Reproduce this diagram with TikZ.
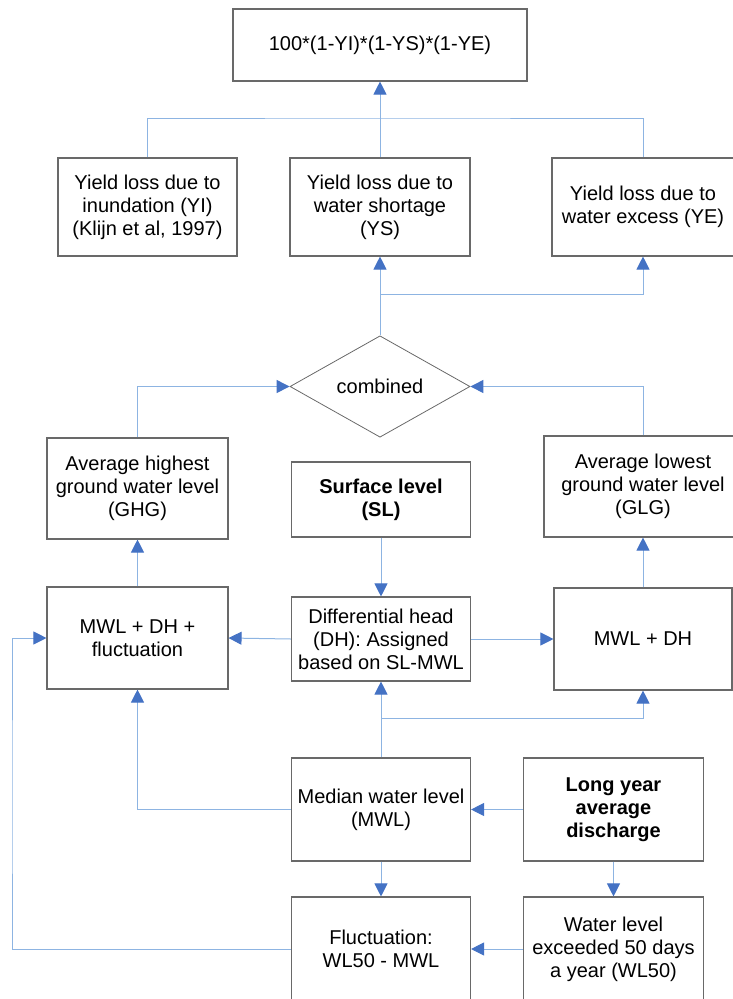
\documentclass[tikz,border=0pt]{standalone}
\usepackage{fontspec}
\setmainfont{Liberation Sans}
\usetikzlibrary{arrows.meta,shapes.geometric}
\definecolor{linkblue}{RGB}{141,180,226}
\definecolor{tipblue}{RGB}{68,114,196}
\definecolor{boxgray}{RGB}{105,105,105}

\begin{document}
\begin{tikzpicture}[x=1pt,y=-1pt,
  box/.style={draw=boxgray, line width=1.1pt, rectangle, inner sep=0pt,
              align=center, font=\fontsize{20}{23}\selectfont},
  decision/.style={draw=boxgray, line width=0.8pt, diamond, inner sep=0pt,
              align=center, font=\fontsize{20}{23}\selectfont},
  link/.style={draw=linkblue, line width=1pt},
  arr/.style={link, -{Triangle[length=13pt,width=13pt,color=tipblue,fill=tipblue]}},
]
\useasboundingbox (0,0) rectangle (732,999);

% result
\node[box, minimum width=294pt, minimum height=72pt] (top) at (380,45)
  {100*(1-YI)*(1-YS)*(1-YE)};

% yield losses
\node[box, minimum width=179pt, minimum height=98pt] (YI) at (147.5,207)
  {Yield loss due to\\inundation (YI)\\(Klijn et al, 1997)};
\node[box, minimum width=180pt, minimum height=98pt] (YS) at (380,207)
  {Yield loss due to\\water shortage\\(YS)};
\node[box, minimum width=182pt, minimum height=98pt] (YE) at (643,207)
  {Yield loss due to\\water excess (YE)};

% combination
\node[decision, minimum width=180pt, minimum height=101pt] (comb) at (380,386.5)
  {combined};

% ground water levels
\node[box, minimum width=181pt, minimum height=101pt] (GHG) at (137.5,488.5)
  {Average highest\\ground water level\\(GHG)};
\node[box, minimum width=179pt, minimum height=75pt] (SL) at (381,499.5)
  {\textbf{Surface level}\\\textbf{(SL)}};
\node[box, minimum width=198pt, minimum height=101pt] (GLG) at (643,486.5)
  {Average lowest\\ground water level\\(GLG)};

% heads
\node[box, minimum width=181pt, minimum height=102pt] (MWLDHF) at (137.5,638)
  {MWL + DH +\\fluctuation};
\node[box, minimum width=179pt, minimum height=84pt] (DH) at (381,639)
  {Differential head\\(DH): Assigned\\based on SL-MWL};
\node[box, minimum width=178pt, minimum height=102pt] (MWLDH) at (643,639)
  {MWL + DH};

% water levels and discharge
\node[box, minimum width=179pt, minimum height=103pt] (Median) at (381,809.5)
  {Median water level\\(MWL)};
\node[box, minimum width=180pt, minimum height=103pt] (Long) at (613.5,809.5)
  {\textbf{Long year}\\\textbf{average}\\\textbf{discharge}};
\node[box, minimum width=179pt, minimum height=104pt] (Fluct) at (381,949)
  {Fluctuation:\\WL50 - MWL};
\node[box, minimum width=180pt, minimum height=104pt] (WL50) at (613.5,949)
  {Water level\\exceeded 50 days\\a year (WL50)};

% junction points
\coordinate (jtop) at (380,118);
\coordinate (jmid) at (380,294);
\coordinate (jlow) at (381,718);
\coordinate (loop) at (12,800);

% connectors
\draw[link] (YI.north) |- (jtop) -| (YE.north);
\draw[arr] (YS.north) -- (top.south);
\draw[arr] (comb.north) -- (YS.south);
\draw[arr] (jmid) -| (YE.south);
\draw[arr] (GHG.north) |- (comb.west);
\draw[arr] (GLG.north) |- (comb.east);
\draw[arr] (SL.south) -- (DH.north);
\draw[arr] (DH.west) -- (MWLDHF.east);
\draw[arr] (DH.east) -- (MWLDH.west);
\draw[arr] (MWLDHF.north) -- (GHG.south);
\draw[arr] (MWLDH.north) -- (GLG.south);
\draw[arr] (Median.north) -- (DH.south);
\draw[arr] (jlow) -| (MWLDH.south);
\draw[arr] (Median.west) -| (MWLDHF.south);
\draw[arr] (Long.west) -- (Median.east);
\draw[arr] (Median.south) -- (Fluct.north);
\draw[arr] (Long.south) -- (WL50.north);
\draw[arr] (WL50.west) -- (Fluct.east);
\draw[arr] (Fluct.west) -| (loop) |- (MWLDHF.west);
\end{tikzpicture}
\end{document}
